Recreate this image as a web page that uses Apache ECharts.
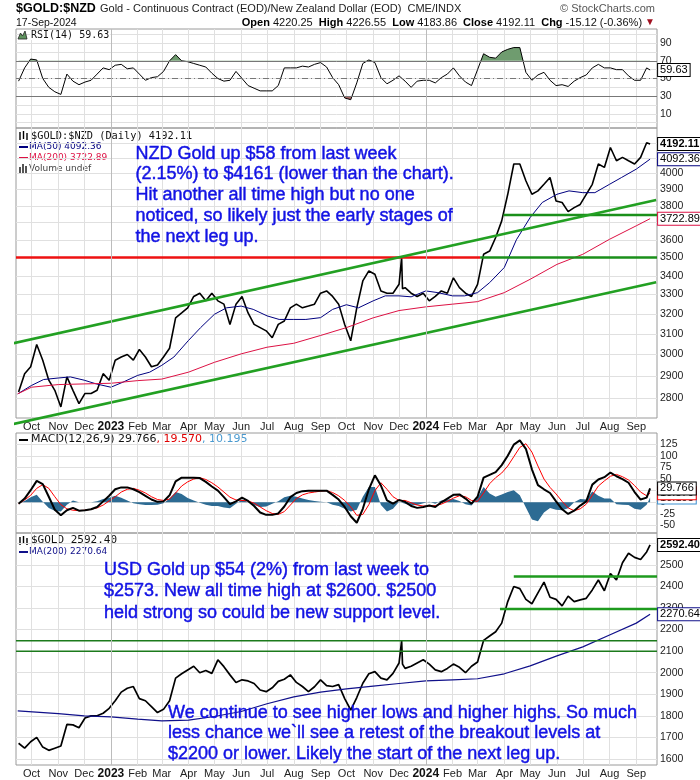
<!DOCTYPE html>
<html><head><meta charset="utf-8">
<script src="https://cdn.jsdelivr.net/npm/echarts@6/dist/echarts.min.js"></script>
<style>html,body{margin:0;padding:0;background:#fff}#c{width:700px;height:780px}</style>
</head><body><div id="c"></div>
<script>
// ---------------- DATA ----------------
const lastSession = '2024-09-17';          // last daily bar
const firstWeekClose = [2022, 9, 16];      // first weekly close (Fri 16-Sep-2022)
const weeksCount = 105;                    // weekly samples before the last session

const monthNames = ['Jan','Feb','Mar','Apr','May','Jun','Jul','Aug','Sep','Oct','Nov','Dec'];
const monthTicks = ['2022-10-01','2022-11-01','2022-12-01','2023-01-01','2023-02-01','2023-03-01','2023-04-01','2023-05-01','2023-06-01','2023-07-01','2023-08-01','2023-09-01','2023-10-01','2023-11-01','2023-12-01','2024-01-01','2024-02-01','2024-03-01','2024-04-01','2024-05-01','2024-06-01','2024-07-01','2024-08-01','2024-09-01'];
const yearLines = ['2023-01-01','2024-01-01'];
const xMin = '2022-09-13', xMax = '2024-09-25';

// RSI(14) weekly
const rsi = [47,62,72,71,50,40,35,32,55,47, 43,46,48,55,62,60,65,66,61,62, 55,48,51,52,58,70,77,70,69,67,
 65,63,56,50,47,48,58,50,42,39, 36,36,36,42,62,62,62,64,63,66, 68,63,51,43,28,26,45,67,71,68,
 51,44,48,53,47,40,47,48,48,45, 51,55,62,53,46,42,60,78,74,73, 80,83,85,85,57,48,54,57,48,42,
 43,41,47,51,54,62,66,62,62,60, 60,53,48,48,62,59.63];
const rsiTicks = [10,30,50,70,90];
const rsiGridVals = [0,10,20,30,40,50,60,70,80,90,100];

// $GOLD:$NZD weekly closes
const nzdClose = [2826,2910,2942,3048,2973,2880,2834,2760,2895,2834, 2775,2820,2820,2834,2910,2880,2973,2988,3000,2973,
 3024,2988,2942,2950,2988,3030,3180,3205,3231,3290, 3307,3267,3307,3267,3250,3147,3250,3290,3205,3147,
 3131,3115,3081,3147,3164,3231,3250,3231,3240,3250, 3307,3319,3290,3250,3147,3066,3231,3372,3426,3408,
 3319,3307,3307,3354,3336,3307,3290,3307,3267,3290, 3319,3307,3389,3336,3307,3290,3354,3518,3536,3613,
 3710,3870,4061,4061,3954,3870,3891,3932,3975,3829, 3820,3765,3789,3808,3870,3932,4061,4039,4169,4082,
 4104,4082,4061,4104,4200,4192.11];
const nzdSpike = [['2023-12-04',3500],['2023-12-05',3330]];
const nzdMa50 = [['2022-09-15',2818],['2022-10-01',2856],['2022-10-15',2883],['2022-11-01',2890],['2022-11-15',2895],['2022-12-01',2880],['2022-12-15',2863],['2023-01-01',2848],['2023-01-15',2871],['2023-02-01',2902],['2023-02-15',2917],['2023-03-01',2949],['2023-03-15',2988],['2023-04-01',3068],['2023-04-15',3131],['2023-05-01',3198],['2023-05-15',3231],['2023-06-01',3240],['2023-06-15',3223],['2023-07-01',3190],['2023-07-15',3172],['2023-08-01',3172],['2023-08-15',3172],['2023-09-01',3181],['2023-09-15',3223],['2023-10-01',3247],['2023-10-15',3231],['2023-11-01',3267],['2023-11-15',3293],['2023-12-01',3293],['2023-12-15',3288],['2024-01-01',3319],['2024-01-15',3310],['2024-02-01',3293],['2024-02-15',3293],['2024-03-01',3310],['2024-03-15',3363],['2024-04-01',3445],['2024-04-15',3600],['2024-05-01',3730],['2024-05-15',3820],['2024-06-01',3870],['2024-06-15',3891],['2024-07-01',3880],['2024-07-15',3880],['2024-08-01',3932],['2024-08-15',3975],['2024-09-01',4028],['2024-09-17',4092.36]];
const nzdMa200 = [['2022-09-15',2818],['2022-10-01',2848],['2022-11-01',2860],['2022-12-01',2863],['2023-01-01',2866],['2023-02-01',2878],['2023-03-01',2885],['2023-04-01',2917],['2023-05-01',2963],['2023-06-01',3003],['2023-07-01',3035],['2023-08-01',3054],['2023-09-01',3092],['2023-10-01',3131],['2023-11-01',3180],['2023-12-01',3217],['2024-01-01',3236],['2024-02-01',3250],['2024-03-01',3263],['2024-04-01',3310],['2024-05-01',3381],['2024-06-01',3462],['2024-07-01',3518],['2024-08-01',3603],['2024-09-01',3681],['2024-09-17',3722.89]];
const nzdAxisRange = [2712, 4300];
const nzdTicks = [2800,2900,3000,3100,3200,3300,3400,3500,3600,3700,3800,3900,4000];
const nzdGridVals = [2800,2900,3000,3100,3200,3300,3400,3500,3600,3700,3800,3900,4000,4100,4200];
const nzdRedLevel = [['2022-09-13',3500],['2024-03-04',3500]];
const nzdGreenLevel = [['2024-03-04',3500],['2024-09-25',3500]];
const nzdGreenLevel2 = [['2024-03-31',3745],['2024-09-25',3745]];
const nzdChannelUpper = [['2022-08-26',3040],['2024-09-24',3835]];
const nzdChannelLower = [['2022-08-26',2674],['2024-09-24',3365]];

// MACD(12,26,9) weekly
const macd = [-3,8,26,46,39,12,-16,-28,-17,-12, -18,-17,-15,-10,2,14,28,32,32,28, 22,14,6,1,2,15,45,53,53,53,
 52,44,34,25,11,-4,2,10,3,-8, -22,-27,-27,-24,-9,11,20,24,25,25, 25,25,16,6,-10,-30,-44,-14,28,58,
 36,4,-3,5,1,-8,-12,-10,-7,-10, 0,8,16,17,8,-3,12,53,59,65, 80,100,124,133,115,71,37,28,20,2,
 -15,-25,-18,-7,2,38,49,54,64,56, 50,42,22,6,10,29.766];
const macdSignal = [-3,5,15,30,38,30,12,-5,-14,-17, -18,-17,-15,-12,-6,3,12,22,28,30, 26,20,12,6,4,7,20,35,44,50,
 53,49,42,33,22,11,5,4,3,-2, -10,-18,-24,-26,-20,-6,8,16,20,22, 24,25,21,14,4,-10,-28,-26,-5,25,
 42,28,12,4,4,-1,-6,-8,-8,-7, -4,2,9,14,12,4,2,20,40,53, 63,78,98,118,126,108,78,50,32,18,
 2,-12,-18,-14,-4,15,35,46,56,60, 55,48,36,22,14,19.570];
const macdHist = [0,3,11,16,1,-12,-18,-20,-5,4, 0,0,0,2,7,10,14,10,4,-2, -4,-6,-6,-5,-2,8,22,18,9,4,
 -1,-5,-8,-8,-11,-13,-3,6,0,-6, -10,-9,-3,2,11,14,12,8,5,3, 1,0,-5,-8,-14,-20,-16,12,33,33,
 -6,-20,-14,1,-3,-7,-6,-2,1,-3, 4,6,7,3,-4,-7,10,33,19,12, 17,22,26,15,-11,-37,-41,-22,-12,-16,
 -17,-13,0,7,6,23,14,8,8,-4, -5,-6,-14,-16,-5,10.195];
const macdTicks = [-50,-25,0,25,50,75,100,125];

// $GOLD (USD) weekly closes
const usdClose = [1673,1650,1680,1700,1655,1640,1650,1660,1760,1758, 1745,1790,1800,1800,1812,1835,1870,1910,1928,1936,
 1880,1870,1843,1815,1830,1870,1975,1995,2013,2030, 2000,2010,1997,2060,2028,1990,1955,1967,1962,1950,
 1920,1912,1930,1960,1970,1990,1955,1936,1912,1935, 1967,1940,1936,1945,1880,1827,1885,1951,1995,2005,
 1975,1967,1997,2045,2020,2030,2045,2060,2040,2013, 2005,2020,2040,2025,2000,2030,2050,2150,2170,2190,
 2230,2330,2400,2390,2340,2320,2370,2420,2350,2340, 2310,2355,2330,2338,2345,2384,2430,2380,2460,2430,
 2510,2554,2535,2525,2560,2592.40];
const usdSpike = [['2023-12-04',2148],['2023-12-05',2040]];
const usdMa200 = [['2022-09-15',1823],['2022-11-01',1810],['2022-12-01',1800],['2023-01-01',1795],['2023-02-01',1785],['2023-03-01',1777],['2023-04-01',1780],['2023-05-01',1797],['2023-06-01',1820],['2023-07-01',1856],['2023-08-01',1888],['2023-09-01',1910],['2023-10-01',1925],['2023-11-01',1938],['2023-12-01',1950],['2024-01-01',1962],['2024-02-01',1967],['2024-03-01',1972],['2024-04-01',1995],['2024-05-01',2032],['2024-06-01',2078],['2024-07-01',2120],['2024-08-01',2175],['2024-09-01',2230],['2024-09-17',2270.64]];
const usdTicks = [1600,1700,1800,1900,2000,2100,2200,2300,2400,2500];
const usdGridVals = [1600,1700,1800,1900,2000,2100,2200,2300,2400,2500,2600];
const usdGreenUpper = [['2024-04-12',2446],['2024-09-25',2446]];
const usdGreenLower = [['2024-03-27',2295],['2024-09-25',2295]];
const usdLevelA = [['2022-09-13',2148],['2024-09-25',2148]];
const usdLevelB = [['2022-09-13',2100],['2024-09-25',2100]];

// ---------------- HELPERS ----------------
const F = '"Liberation Sans", Arial, sans-serif';
const FM = '"DejaVu Sans Mono", monospace';
const FD = '"DejaVu Sans", sans-serif';
const BLUE = '#1212e4';
const pad2 = n => String(n).padStart(2, '0');
const toTs = s => { const [y, m, d] = s.split('-').map(Number); return Date.UTC(y, m - 1, d); };
function weeklyDates() {
  const out = [];
  for (let k = 0; k < weeksCount; k++) {
    const d = new Date(Date.UTC(firstWeekClose[0], firstWeekClose[1] - 1, firstWeekClose[2] + 7 * k));
    out.push(d.getUTCFullYear() + '-' + pad2(d.getUTCMonth() + 1) + '-' + pad2(d.getUTCDate()));
  }
  out.push(lastSession);
  return out;
}
const W = weeklyDates();
const weekly = vals => vals.map((v, i) => [W[i], v]);
const merge = (a, b) => a.concat(b).sort((p, q) => (p[0] < q[0] ? -1 : p[0] > q[0] ? 1 : 0));
const T = arr => arr.map(([d, v]) => [toTs(d), v]);
const TL = arr => arr.map(([d, v]) => [toTs(d), Math.log(v)]);
const tickTs = monthTicks.map(toTs);

function xAxis(gi, showLabel) {
  return {
    type: 'value', gridIndex: gi, min: toTs(xMin), max: toTs(xMax),
    axisLine: { show: false }, axisTick: { show: false, customValues: tickTs },
    axisLabel: {
      show: showLabel, customValues: tickTs, margin: 3, color: '#222', fontFamily: F, fontSize: 11,
      formatter: v => { const d = new Date(v); return d.getUTCMonth() === 0 ? '{y|' + d.getUTCFullYear() + '}' : monthNames[d.getUTCMonth()]; },
      rich: { y: { fontWeight: 'bold', fontFamily: F, fontSize: 12, color: '#111' } }
    },
    splitLine: { show: true, lineStyle: { color: '#e0e0e0', width: 1 } }
  };
}
function yAxis(gi, min, max, grid, labels, fmt) {
  return {
    type: 'value', gridIndex: gi, position: 'right', min, max,
    axisLine: { show: false }, axisTick: { show: false, customValues: grid },
    axisLabel: { customValues: labels, margin: 3, color: '#222', fontFamily: F, fontSize: 10.5, formatter: fmt || (v => String(v)) },
    splitLine: { show: true, lineStyle: { color: '#e0e0e0', width: 1 } }
  };
}
function box(border, bold, fmt) {
  return { show: true, distance: 8, formatter: fmt, color: '#000', fontFamily: F, fontSize: 11,
    fontWeight: bold ? 'bold' : 'normal', backgroundColor: '#fff', borderColor: border, borderWidth: 1,
    padding: [1, 2, 0, 2], lineHeight: 11 };
}
const yearMarks = yearLines.map(d => ({ xAxis: toTs(d), lineStyle: { color: '#bcbcbc', type: 'solid', width: 1 } }));
function line(gi, data, color, width, extra) {
  return Object.assign({ type: 'line', xAxisIndex: gi, yAxisIndex: gi, data, symbol: 'none', showSymbol: false,
    lineStyle: { color, width }, itemStyle: { color }, silent: true, z: 3 }, extra || {});
}
function level(gi, data, color, width) {
  return line(gi, data, color, width, { clip: false, z: 4 });
}
function note(x, y, text, lh) {
  return { type: 'text', x, y, z: 100, style: { text, font: '18px ' + F, fill: BLUE, stroke: BLUE, lineWidth: 0.45, lineHeight: lh } };
}

// ---------------- CHART ----------------
const chart = echarts.init(document.getElementById('c'), null, { renderer: 'canvas' });
const expFmt = p => Math.exp(p.value[1]).toFixed(2);

const option = {
  animation: false,
  backgroundColor: '#fff',
  grid: [
    { left: 16, top: 29, width: 641, height: 99, show: true, borderColor: '#9a9a9a', borderWidth: 1 },
    { left: 16, top: 128, width: 641, height: 290, show: true, borderColor: '#9a9a9a', borderWidth: 1 },
    { left: 16, top: 433, width: 641, height: 100, show: true, borderColor: '#9a9a9a', borderWidth: 1 },
    { left: 16, top: 533, width: 641, height: 232, show: true, borderColor: '#9a9a9a', borderWidth: 1 }
  ],
  xAxis: [xAxis(0, false), xAxis(1, true), xAxis(2, false), xAxis(3, true)],
  yAxis: [
    yAxis(0, -6, 106, rsiGridVals, rsiTicks),
    yAxis(1, Math.log(nzdAxisRange[0]), Math.log(nzdAxisRange[1]), nzdGridVals.map(Math.log), nzdTicks.map(Math.log), v => String(Math.round(Math.exp(v)))),
    yAxis(2, -66, 149, macdTicks, macdTicks),
    yAxis(3, 1572, 2648, usdGridVals, usdTicks)
  ],
  visualMap: [{
    type: 'piecewise', show: false, seriesIndex: 1, dimension: 1,
    pieces: [{ gt: 70, color: '#6f9c6f' }, { lt: 30, color: '#a86767' }, { gte: 30, lte: 70, color: 'rgba(255,255,255,0)' }]
  }],
  series: [
    // RSI
    line(0, T(weekly(rsi)), '#000', 1, {
      z: 4,
      endLabel: box('#000', false, p => p.value[1].toFixed(2)),
      markLine: { symbol: 'none', silent: true, label: { show: false },
        data: [
          { yAxis: 70, lineStyle: { color: '#777', type: 'solid', width: 1 } },
          { yAxis: 30, lineStyle: { color: '#777', type: 'solid', width: 1 } },
          { yAxis: 50, lineStyle: { color: '#777', type: [6, 3, 1, 3], width: 1 } }
        ].concat(yearMarks) }
    }),
    line(0, T(weekly(rsi)), '#6f9c6f', 0, { areaStyle: { origin: 70, opacity: 1 }, lineStyle: { width: 0, opacity: 0 }, z: 2 }),
    // NZD price panel
    line(1, TL(merge(weekly(nzdClose), nzdSpike)), '#000', 1.6, {
      endLabel: box('#000', true, expFmt),
      markLine: { symbol: 'none', silent: true, label: { show: false }, data: yearMarks }
    }),
    line(1, TL(nzdMa50), '#00007f', 1, { endLabel: box('#00007f', false, expFmt) }),
    line(1, TL(nzdMa200), '#dd1144', 1, { endLabel: box('#dd1144', false, expFmt) }),
    level(1, TL(nzdRedLevel), '#ee1111', 2.5),
    level(1, TL(nzdGreenLevel), '#1a8f1a', 2.5),
    level(1, TL(nzdGreenLevel2), '#1a8f1a', 2.5),
    level(1, TL(nzdChannelUpper), '#22a022', 2.5),
    level(1, TL(nzdChannelLower), '#22a022', 2.5),
    // MACD
    line(2, T(weekly(macdHist)), '#2d6b93', 0, {
      areaStyle: { origin: 0, color: '#2d6b93', opacity: 1 }, lineStyle: { width: 0 }, z: 2,
      endLabel: box('#3a8fd0', false, p => p.value[1].toFixed(3)),
      markLine: { symbol: 'none', silent: true, label: { show: false }, data: yearMarks }
    }),
    line(2, T(weekly(macdSignal)), '#ff0000', 1, { endLabel: box('#ff0000', false, p => p.value[1].toFixed(3)) }),
    line(2, T(weekly(macd)), '#000', 2, { z: 5, endLabel: box('#000', false, p => p.value[1].toFixed(3)) }),
    // USD gold panel
    line(3, T(merge(weekly(usdClose), usdSpike)), '#000', 1.7, {
      endLabel: box('#000', true, p => p.value[1].toFixed(2)),
      markLine: { symbol: 'none', silent: true, label: { show: false }, data: yearMarks }
    }),
    line(3, T(usdMa200), '#10108a', 1.2, { endLabel: box('#10108a', false, p => p.value[1].toFixed(2)) }),
    level(3, T(usdGreenUpper), '#1e9a1e', 2.5),
    level(3, T(usdGreenLower), '#1e9a1e', 2.5),
    level(3, T(usdLevelA), '#1c7a1c', 1.5),
    level(3, T(usdLevelB), '#1c7a1c', 1.5)
  ],
  graphic: [
    { type: 'text', x: 16, y: 2, style: { text: '$GOLD:$NZD', font: 'bold 12.5px ' + F, fill: '#000' } },
    { type: 'text', x: 100, y: 3, style: { text: 'Gold - Continuous Contract (EOD)/New Zealand Dollar (EOD)  CME/INDX', font: '11px ' + F, fill: '#222' } },
    { type: 'text', x: 655, y: 3, style: { text: '\u00A9 StockCharts.com', font: '11px ' + F, fill: '#555', align: 'right' } },
    { type: 'text', x: 16, y: 18, style: { text: '17-Sep-2024', font: '10.5px ' + F, fill: '#111' } },
    { type: 'text', x: 655, y: 17, style: {
      text: '{b|Open} 4220.25  {b|High} 4226.55  {b|Low} 4183.86  {b|Close} 4192.11  {b|Chg} -15.12 (-0.36%) {r|\u25BC}',
      font: '11px ' + F, fill: '#111', align: 'right',
      rich: { b: { font: 'bold 11px ' + F, fill: '#000' }, r: { font: '10px ' + F, fill: '#a01020' } } } },
    // RSI legend
    { type: 'polygon', z: 50, shape: { points: [[18, 39], [20.5, 33], [22.5, 36], [25, 31], [27, 39]] }, style: { fill: '#5f935f', stroke: '#222', lineWidth: 0.8 } },
    { type: 'text', x: 30, y: 30, z: 50, style: { text: 'RSI(14) 59.63', font: '10px ' + FM, fill: '#111', backgroundColor: '#fff', padding: [0, 1] } },
    // main legend
    { type: 'group', x: 19, y: 131, children: [
      { type: 'line', shape: { x1: 1, y1: 1, x2: 1, y2: 9 }, style: { stroke: '#000', lineWidth: 1.4 } },
      { type: 'line', shape: { x1: 4.5, y1: 0, x2: 4.5, y2: 8 }, style: { stroke: '#000', lineWidth: 1.4 } },
      { type: 'line', shape: { x1: 8, y1: 2, x2: 8, y2: 9 }, style: { stroke: '#000', lineWidth: 1.4 } }
    ] },
    { type: 'text', x: 31, y: 131, style: { text: '$GOLD:$NZD (Daily) 4192.11', font: '10.3px ' + FM, fill: '#111' } },
    { type: 'line', shape: { x1: 19, y1: 147, x2: 28, y2: 147 }, style: { stroke: '#00007f', lineWidth: 2 } },
    { type: 'text', x: 29, y: 142, style: { text: 'MA(50) 4092.36', font: '9px ' + FD, fill: '#00007f' } },
    { type: 'line', shape: { x1: 19, y1: 158, x2: 28, y2: 158 }, style: { stroke: '#dd1144', lineWidth: 2 } },
    { type: 'text', x: 29, y: 153, style: { text: 'MA(200) 3722.89', font: '9px ' + FD, fill: '#dd1144' } },
    { type: 'group', x: 19, y: 164, children: [
      { type: 'rect', shape: { x: 0, y: 3, width: 2, height: 6 }, style: { fill: '#555' } },
      { type: 'rect', shape: { x: 3, y: 0, width: 2, height: 9 }, style: { fill: '#555' } },
      { type: 'rect', shape: { x: 6, y: 2, width: 2, height: 7 }, style: { fill: '#555' } }
    ] },
    { type: 'text', x: 29, y: 164, style: { text: 'Volume undef', font: '9px ' + FD, fill: '#444' } },
    // MACD legend
    { type: 'line', shape: { x1: 19, y1: 440, x2: 28, y2: 440 }, style: { stroke: '#000', lineWidth: 2 } },
    { type: 'text', x: 31, y: 434, style: { text: 'MACD(12,26,9) 29.766{r|, 19.570}{b|, 10.195}', font: '11px ' + FD, fill: '#111',
      rich: { r: { font: '11px ' + FD, fill: '#e00000' }, b: { font: '11px ' + FD, fill: '#4a9ad0' } } } },
    // USD legend
    { type: 'group', x: 19, y: 536, children: [
      { type: 'line', shape: { x1: 1, y1: 1, x2: 1, y2: 9 }, style: { stroke: '#000', lineWidth: 1.4 } },
      { type: 'line', shape: { x1: 4.5, y1: 0, x2: 4.5, y2: 8 }, style: { stroke: '#000', lineWidth: 1.4 } },
      { type: 'line', shape: { x1: 8, y1: 2, x2: 8, y2: 9 }, style: { stroke: '#000', lineWidth: 1.4 } }
    ] },
    { type: 'text', x: 31, y: 535, style: { text: '$GOLD 2592.40', font: '11px ' + FM, fill: '#111' } },
    { type: 'line', shape: { x1: 19, y1: 552, x2: 28, y2: 552 }, style: { stroke: '#10108a', lineWidth: 2 } },
    { type: 'text', x: 29, y: 547, style: { text: 'MA(200) 2270.64', font: '9px ' + FD, fill: '#10108a' } },
    // annotations
    note(135.5, 143.3, 'NZD Gold up $58 from last week\n(2.15%) to $4161 (lower than the chart).\nHit another all time high but no one\nnoticed, so likely just the early stages of\nthe next leg up.', 20.8),
    note(104, 559.7, 'USD Gold up $54 (2%) from last week to\n$2573. New all time high at $2600. $2500\nheld strong so could be new support level.', 21.2),
    note(168, 702.3, 'We continue to see higher lows and higher highs. So much\nless chance we`ll see a retest of the breakout levels at\n$2200 or lower. Likely the start of the next leg up.', 20.5)
  ]
};
chart.setOption(option);
</script></body></html>
